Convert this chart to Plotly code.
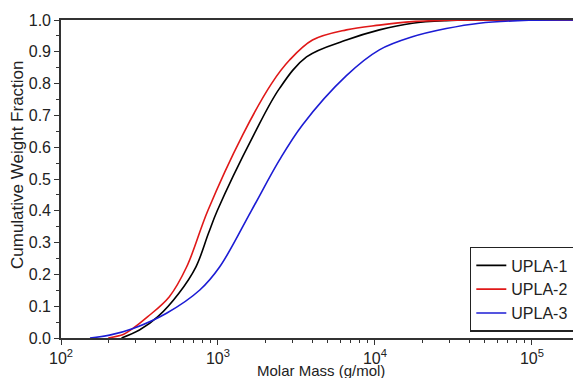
import plotly.graph_objects as go

# Molar mass (g/mol) and cumulative weight fraction
upla1_m = [243, 316, 414, 562, 724, 871, 989, 1687, 2466, 3664, 6577, 10666, 17298, 28445, 46132, 200000]
upla1_f = [0.0, 0.025, 0.067, 0.14, 0.224, 0.33, 0.40, 0.638, 0.785, 0.884, 0.937, 0.969, 0.99, 0.998, 1.0, 1.0]

upla2_m = [200, 251, 287, 357, 490, 632, 861, 1435, 2193, 2858, 4000, 6577, 10666, 17298, 28445, 46132, 200000]
upla2_f = [0.0, 0.012, 0.03, 0.067, 0.13, 0.224, 0.40, 0.638, 0.80, 0.874, 0.937, 0.969, 0.984, 0.995, 0.999, 1.0, 1.0]

upla3_m = [153, 204, 288, 470, 766, 1026, 1630, 2466, 3451, 6577, 10666, 17298, 28445, 46132, 95500, 200000]
upla3_f = [0.0, 0.009, 0.03, 0.078, 0.151, 0.224, 0.40, 0.56, 0.67, 0.825, 0.906, 0.947, 0.973, 0.99, 0.999, 1.0]

series_names = ["UPLA-1", "UPLA-2", "UPLA-3"]
series_colors = ["#000000", "#e01818", "#1c1cd4"]

x_tick_vals = [100, 1000, 10000, 100000]
x_tick_text = ["10<sup>2</sup>", "10<sup>3</sup>", "10<sup>4</sup>", "10<sup>5</sup>"]
x_minor_vals = [m * d for d in (100, 1000, 10000) for m in range(2, 10)] + [200000]

fig = go.Figure()
for name, color, xs, ys in zip(series_names, series_colors,
                               [upla1_m, upla2_m, upla3_m],
                               [upla1_f, upla2_f, upla3_f]):
    fig.add_trace(go.Scatter(x=xs, y=ys, mode="lines", name=name,
                             line=dict(color=color, width=1.6, shape="spline", smoothing=1.0)))

axis_color = "#333333"
text_color = "#222222"
font_family = "Liberation Sans, Arial, sans-serif"

# The page body has an 8px default margin, so the figure is sized and
# padded to place the plot area where the reference has it.
fig.update_layout(
    width=573, height=370,
    margin=dict(l=53, r=1, t=12, b=40, autoexpand=False),
    paper_bgcolor="white", plot_bgcolor="white",
    font=dict(family=font_family, size=16, color=text_color),
    showlegend=True,
    legend=dict(x=0.99, y=0.019, xanchor="right", yanchor="bottom",
                bordercolor=text_color, borderwidth=1.5, bgcolor="white",
                font=dict(size=16, family=font_family, color=text_color),
                tracegroupgap=0, itemwidth=30),
    annotations=[
        dict(text="Molar Mass (g/mol)", xref="paper", yref="paper",
             x=0.5, y=(338 - 370) / 318, xanchor="center", yanchor="middle",
             showarrow=False, font=dict(size=15, color=text_color)),
        dict(text="Cumulative Weight Fraction", xref="paper", yref="paper",
             x=(17 - 61) / 519, y=(338 - 165) / 318, xanchor="center", yanchor="middle",
             textangle=-90, showarrow=False, font=dict(size=17, color=text_color)),
    ],
)

fig.update_xaxes(
    type="log", range=[2, 5.306], automargin=False,
    tickmode="array", tickvals=x_tick_vals, ticktext=x_tick_text,
    ticks="outside", ticklen=5, tickwidth=1.3, tickcolor=axis_color,
    minor=dict(tickmode="array", tickvals=x_minor_vals, ticks="outside",
               ticklen=3, tickwidth=1.2, tickcolor=axis_color),
    showline=True, linecolor=axis_color, linewidth=1.6, mirror=True,
    showgrid=False, zeroline=False,
    tickfont=dict(size=16),
)

fig.update_yaxes(
    range=[0, 1.0], dtick=0.1, tick0=0, tickformat=".1f", automargin=False,
    ticks="outside", ticklen=5, tickwidth=1.3, tickcolor=axis_color,
    minor=dict(dtick=0.05, ticks="outside", ticklen=3, tickwidth=1.2, tickcolor=axis_color),
    showline=True, linecolor=axis_color, linewidth=1.6, mirror=True,
    showgrid=False, zeroline=False,
    tickfont=dict(size=16),
)

fig.write_html("out.html")
